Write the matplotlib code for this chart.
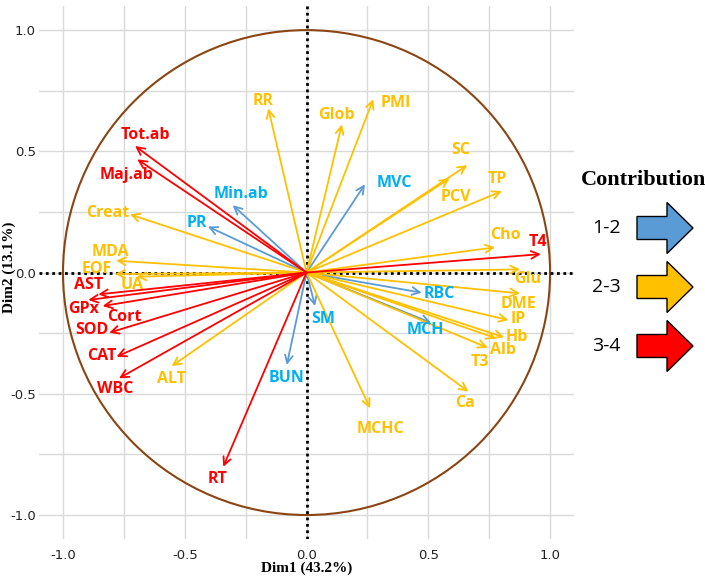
import matplotlib
matplotlib.use("Agg")
import matplotlib.pyplot as plt
from matplotlib.patches import Circle, FancyArrow
from matplotlib.ticker import MultipleLocator

# variables del circulo de correlaciones (Dim1, Dim2) y su contribucion
variables = ["Tot.ab", "Maj.ab", "Min.ab", "Creat", "PR", "RR", "Glob", "PMI", "MVC",
             "SC", "PCV", "TP", "MDA", "EOF", "UA", "AST", "GPx", "Cort", "SOD", "CAT",
             "WBC", "ALT", "BUN", "RT", "MCHC", "Ca", "Cho", "T4", "Glu", "RBC", "SM",
             "DME", "IP", "MCH", "Hb", "Alb", "T3"]
dim1 = [-0.704, -0.695, -0.303, -0.725, -0.405, -0.157, 0.145, 0.274, 0.240,
        0.660, 0.587, 0.802, -0.782, -0.786, -0.697, -0.855, -0.896, -0.837, -0.810, -0.780,
        -0.770, -0.554, -0.081, -0.342, 0.261, 0.665, 0.774, 0.962, 0.877, 0.473, 0.035,
        0.877, 0.829, 0.511, 0.811, 0.778, 0.744]
dim2 = [0.522, 0.467, 0.278, 0.240, 0.190, 0.677, 0.611, 0.715, 0.364,
        0.443, 0.388, 0.336, 0.049, -0.006, -0.017, -0.090, -0.113, -0.138, -0.248, -0.347,
        -0.436, -0.386, -0.381, -0.801, -0.560, -0.491, 0.104, 0.076, 0.013, -0.083, -0.138,
        -0.086, -0.196, -0.207, -0.267, -0.271, -0.310]
# 1 = 1-2, 2 = 2-3, 3 = 3-4
contrib = [3, 3, 1, 2, 1, 2, 2, 2, 1,
           2, 2, 2, 2, 2, 2, 3, 3, 3, 3, 3,
           3, 2, 1, 3, 2, 2, 2, 3, 2, 1, 1,
           2, 2, 1, 2, 2, 2]
contrib_labels = ["1-2", "2-3", "3-4"]

# desplazamiento de cada etiqueta respecto a la punta (pixeles)
label_offset = {
    "Tot.ab": (10, 11), "Maj.ab": (-11, -16), "Min.ab": (8, 11), "Creat": (-22, 1),
    "PR": (-11, 3), "RR": (-5, 7), "Glob": (-5, 9), "PMI": (23, -4), "MVC": (29, 1),
    "SC": (-7, 15), "PCV": (6, -19), "TP": (-5, 12), "MDA": (-6, 9), "EOF": (-18, 5),
    "UA": (-5, -8), "AST": (-10, 9), "GPx": (-5, -9), "Cort": (22, -11), "SOD": (-17, 3),
    "CAT": (-15, 1), "WBC": (-4, -11), "ALT": (0, -13), "BUN": (0, -13), "RT": (-6, -12),
    "MCHC": (10, -21), "Ca": (-3, -11), "Cho": (10, 12), "T4": (-3, 12), "Glu": (8, -10),
    "RBC": (18, -1), "SM": (8, -13), "DME": (-2, -11), "IP": (10, 1), "MCH": (-6, -7),
    "Hb": (13, 0), "Alb": (7, -12), "T3": (-8, -14),
}

arrow_col = {1: "#5B9BD5", 2: "#FFC000", 3: "#FF0000"}
text_col = {1: "#00B0F0", 2: "#FFC000", 3: "#FF0000"}

fig = plt.figure(figsize=(7.05, 5.76), dpi=100)
ax = fig.add_axes([0.0548, 0.0638, 0.760, 0.926])
ax.set_xlim(-1.1, 1.1)
ax.set_ylim(-1.1, 1.1)

ax.xaxis.set_major_locator(MultipleLocator(0.5))
ax.yaxis.set_major_locator(MultipleLocator(0.5))
ax.xaxis.set_minor_locator(MultipleLocator(0.25))
ax.yaxis.set_minor_locator(MultipleLocator(0.25))
ax.grid(which="both", color="#d9d9d9", lw=1.0)
ax.set_axisbelow(True)
for s in ax.spines.values():
    s.set_visible(False)
ax.tick_params(which="both", length=0)
ax.tick_params(axis="x", pad=7, labelsize=9.5, labelcolor="#222222")
ax.tick_params(axis="y", pad=2, labelsize=9.5, labelcolor="#222222")
ax.xaxis.set_major_formatter(plt.FuncFormatter(lambda v, p: f"{v:.1f}"))
ax.yaxis.set_major_formatter(plt.FuncFormatter(lambda v, p: f"{v:.1f}"))

ax.set_xlabel("Dim1 (43.2%)", family="Liberation Serif", fontweight="bold", fontsize=11, labelpad=0)
ax.set_ylabel("Dim2 (13.1%)", family="Liberation Serif", fontweight="bold", fontsize=11)
ax.yaxis.set_label_coords(-0.043, 0.51)

ax.add_patch(Circle((0, 0), 1.0, fill=False, ec="#8B4513", lw=1.5, zorder=2))
ax.axhline(0, color="black", lw=2, ls=(0, (1, 1.3)), zorder=3)
ax.axvline(0, color="black", lw=2, ls=(0, (1, 1.3)), zorder=3)

# primero azules, luego amarillas y rojas encima
for grp in (1, 2, 3):
    for name, x, y, c in zip(variables, dim1, dim2, contrib):
        if c != grp:
            continue
        ax.annotate("", xy=(x, y), xytext=(0, 0),
                    arrowprops=dict(arrowstyle="->", color=arrow_col[c], lw=1.3,
                                    shrinkA=0, shrinkB=0, mutation_scale=14),
                    zorder=4)
        ox, oy = label_offset[name]
        ax.annotate(name, xy=(x, y), xytext=(ox, oy), textcoords="offset pixels",
                    ha="center", va="center", color=text_col[c], fontsize=11.5,
                    family="Open Sans", fontweight="bold", zorder=5)

# leyenda de contribucion
lg = fig.add_axes([0, 0, 1, 1])
lg.set_xlim(0, 705)
lg.set_ylim(576, 0)
lg.axis("off")
lg.text(643, 180, "Contribution", family="Liberation Serif", fontweight="bold",
        fontsize=16, ha="center", va="center")
for i, lab in enumerate(contrib_labels):
    yc = 228 + i * 59
    lg.text(606, yc, lab, fontsize=14, family="Open Sans", ha="center", va="center")
    lg.add_patch(FancyArrow(637, yc, 56, 0, width=23, head_width=51, head_length=26,
                            length_includes_head=True, fc=arrow_col[i + 1], ec="black", lw=1))

fig.savefig("out.png", dpi=100)
